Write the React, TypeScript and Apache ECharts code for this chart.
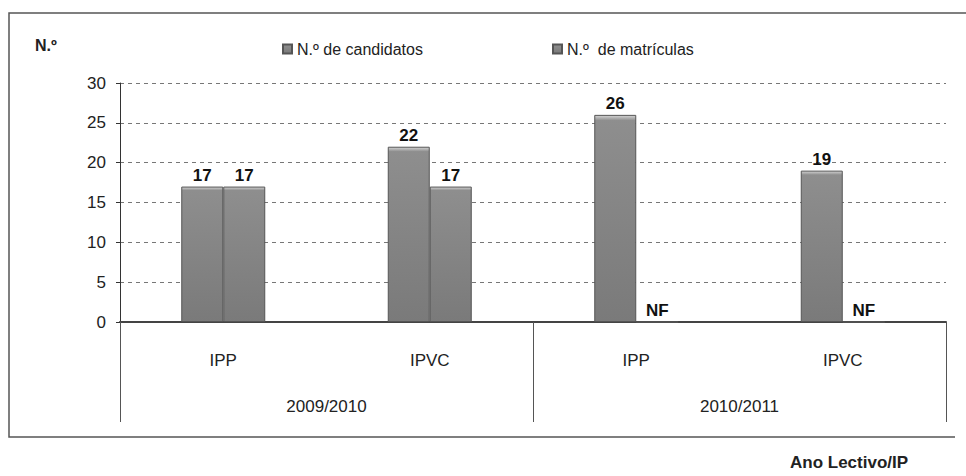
import React, { useEffect, useRef } from "react";
import * as echarts from "echarts";

const ipCategories = ["IPP", "IPVC", "IPP", "IPVC"];
const yearCategories = ["2009/2010", "2010/2011"];
const seriesNames = ["N.º de candidatos", "N.º  de matrículas"];
const candidatos = [17, 22, 26, 19];
const matriculas = [17, 17, 0, 0];
const matriculasLabels = ["17", "17", "NF", "NF"];
const yTicks = { min: 0, max: 30, interval: 5 };

const FONT = "'Liberation Sans', Arial, sans-serif";

const barColor = {
  type: "linear",
  x: 0,
  y: 0,
  x2: 0,
  y2: 1,
  colorStops: [
    { offset: 0, color: "#d4d4d4" },
    { offset: 0.025, color: "#8e8e8e" },
    { offset: 1, color: "#7a7a7a" },
  ],
};

export default function App() {
  const ref = useRef<HTMLDivElement>(null);
  useEffect(() => {
    if (!ref.current) return;
    const chart = echarts.init(ref.current, undefined, { renderer: "svg" });
    const labelStyle = {
      show: true,
      position: "top",
      distance: 3,
      fontFamily: FONT,
      fontWeight: "bold",
      fontSize: 17,
      color: "#111",
    };
    chart.setOption({
      animation: false,
      backgroundColor: "#ffffff",
      textStyle: { fontFamily: FONT },
      grid: { left: 120, right: 20, top: 83, bottom: 154, containLabel: false },
      legend: [
        {
          data: [seriesNames[0]],
          left: 277,
          top: 36,
          itemWidth: 9,
          itemHeight: 9,
          icon: "rect",
          textStyle: { fontFamily: FONT, fontSize: 16, color: "#222" },
        },
        {
          data: [seriesNames[1]],
          left: 547,
          top: 36,
          itemWidth: 9,
          itemHeight: 9,
          icon: "rect",
          textStyle: { fontFamily: FONT, fontSize: 16, color: "#222" },
        },
      ],
      xAxis: [
        {
          type: "category",
          data: ipCategories,
          position: "bottom",
          axisLine: { show: true, lineStyle: { color: "#444", width: 2 } },
          axisTick: { show: false },
          axisLabel: { margin: 30, fontFamily: FONT, fontSize: 17, color: "#222" },
        },
        {
          type: "category",
          data: yearCategories,
          position: "bottom",
          axisLine: { show: false },
          axisTick: {
            show: true,
            length: 100,
            interval: 0,
            lineStyle: { color: "#555", width: 1 },
          },
          axisLabel: { margin: 76, fontFamily: FONT, fontSize: 17, color: "#222" },
        },
      ],
      yAxis: {
        type: "value",
        min: yTicks.min,
        max: yTicks.max,
        interval: yTicks.interval,
        axisLine: { show: true, lineStyle: { color: "#333", width: 1 } },
        axisTick: { show: true, length: 4, lineStyle: { color: "#333" } },
        axisLabel: { margin: 14, fontFamily: FONT, fontSize: 17, color: "#222" },
        splitLine: { show: true, lineStyle: { type: [4, 4], color: "#777", width: 1 } },
      },
      series: [
        {
          name: seriesNames[0],
          type: "bar",
          xAxisIndex: 0,
          data: candidatos,
          barWidth: 42,
          barGap: "0%",
          itemStyle: { color: barColor, borderColor: "#555", borderWidth: 1 },
          label: labelStyle,
        },
        {
          name: seriesNames[1],
          type: "bar",
          xAxisIndex: 0,
          data: matriculas,
          barWidth: 42,
          barGap: "0%",
          itemStyle: { color: barColor, borderColor: "#555", borderWidth: 1 },
          label: {
            ...labelStyle,
            formatter: (p: any) => matriculasLabels[p.dataIndex],
          },
        },
      ],
      graphic: [
        {
          type: "polyline",
          shape: { points: [[966, 13], [9, 13], [9, 437], [955, 437]] },
          style: { stroke: "#555", lineWidth: 1.5, fill: null },
          silent: true,
        },
        {
          type: "text",
          left: 35,
          top: 37,
          style: { text: "N.º", font: `bold 16px ${FONT}`, fill: "#222" },
        },
        {
          type: "text",
          left: 790,
          top: 454,
          style: { text: "Ano Lectivo/IP", font: `bold 17px ${FONT}`, fill: "#222" },
        },
      ],
    });
    return () => chart.dispose();
  }, []);
  return (
    <div
      ref={ref}
      style={{ position: "fixed", left: 0, top: 0, width: 966, height: 476 }}
    />
  );
}
